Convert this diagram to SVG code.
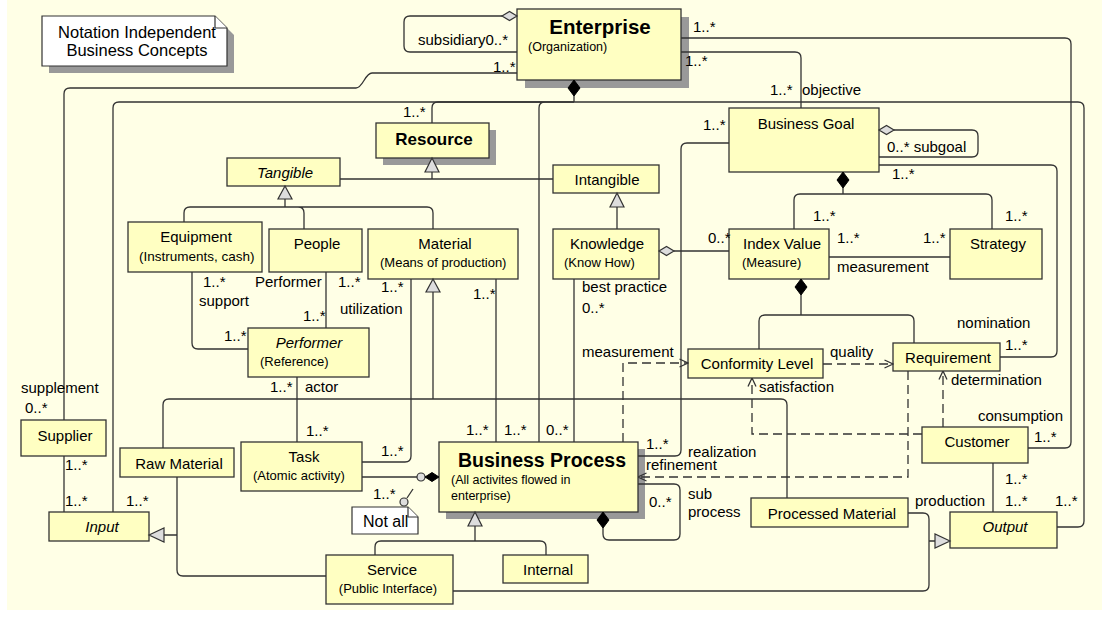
<svg xmlns="http://www.w3.org/2000/svg" width="1102" height="621" viewBox="0 0 1102 621">
<defs>
<style>
.bg{fill:#FFFFE6}
.n{fill:#FFFFC2;stroke:#333;stroke-width:1.3}
.sh{fill:#999}
.note{fill:#fff;stroke:#333;stroke-width:1.2}
.ln{fill:none;stroke:#333;stroke-width:1.3}
.dash{stroke-dasharray:9 5}
.tri{fill:#ddd;stroke:#333;stroke-width:1.2}
.od{fill:#ddd;stroke:#333;stroke-width:1.2}
.fd{fill:#000;stroke:#000;stroke-width:1}
text{font-family:"Liberation Sans",Arial,sans-serif;fill:#000}
.l{font-size:15px}
.nm{font-size:15px;text-anchor:middle}
.it{font-style:italic}
.ds{font-size:13px}
.bd{font-weight:bold;text-anchor:middle}
</style>
<marker id="arr" viewBox="0 0 10 10" refX="9.5" refY="5" markerWidth="10" markerHeight="10" markerUnits="userSpaceOnUse" orient="auto">
<path d="M1,1 L9.5,5 L1,9" fill="none" stroke="#333" stroke-width="1.3" stroke-dasharray="none"/>
</marker>
</defs>
<rect class="bg" x="7" y="0" width="1095" height="610"/>

<g id="note-concepts">
<path class="sh" d="M49,23 H222 L234,35 V73 H49 Z"/>
<path class="note" d="M42,16 H215 L227,28 V66 H42 Z"/>
<path class="note" d="M215,16 V28 H227"/>
<text x="137" y="38" style="font-size:16.5px;text-anchor:middle">Notation Independent</text>
<text x="137" y="56" style="font-size:16.5px;text-anchor:middle">Business Concepts</text>
</g>
<g id="enterprise">
<rect class="sh" x="525" y="17" width="164" height="71"/>
<rect class="n" x="517" y="9" width="164" height="71"/>
<text class="bd" x="600" y="34" style="font-size:20.5px">Enterprise</text>
<text x="528" y="51" style="font-size:12.5px">(Organization)</text>
</g>
<g id="resource">
<rect class="sh" x="383" y="130" width="113" height="35"/>
<rect class="n" x="376" y="123" width="113" height="35"/>
<text class="bd" x="434" y="145" style="font-size:17px">Resource</text>
</g>
<g id="tangible">
<rect class="n" x="227" y="158" width="113" height="28"/>
<text class="nm it" x="285" y="178">Tangible</text>
</g>
<g id="intangible">
<rect class="n" x="553" y="165" width="106" height="28"/>
<text class="nm" x="607" y="185">Intangible</text>
</g>
<g id="business-goal">
<rect class="n" x="729" y="108" width="150" height="64"/>
<text class="nm" x="806" y="129">Business Goal</text>
</g>
<g id="equipment">
<rect class="n" x="128" y="222" width="134" height="50"/>
<text class="nm" x="196" y="242">Equipment</text>
<text class="ds" x="139" y="261" style="font-size:13.5px">(Instruments, cash)</text>
</g>
<g id="people">
<rect class="n" x="269" y="229" width="93" height="43"/>
<text class="nm" x="317" y="249">People</text>
</g>
<g id="material">
<rect class="n" x="368" y="229" width="150" height="50"/>
<text class="nm" x="445" y="249">Material</text>
<text class="ds" x="380" y="267">(Means of production)</text>
</g>
<g id="knowledge">
<rect class="n" x="553" y="229" width="106" height="50"/>
<text class="nm" x="607" y="249">Knowledge</text>
<text class="ds" x="564" y="267">(Know How)</text>
</g>
<g id="index-value">
<rect class="n" x="729" y="229" width="100" height="50"/>
<text class="l" x="743" y="249">Index Value</text>
<text class="ds" x="742" y="267">(Measure)</text>
</g>
<g id="strategy">
<rect class="n" x="950" y="229" width="92" height="50"/>
<text class="nm" x="998" y="249">Strategy</text>
</g>
<g id="performer">
<rect class="n" x="248" y="328" width="121" height="49"/>
<text class="nm it" x="309" y="348">Performer</text>
<text class="ds" x="260" y="366">(Reference)</text>
</g>
<g id="conformity-level">
<rect class="n" x="688" y="349" width="135" height="29"/>
<text class="nm" x="757" y="369">Conformity Level</text>
</g>
<g id="requirement">
<rect class="n" x="893" y="343" width="107" height="28"/>
<text class="nm" x="948" y="363">Requirement</text>
</g>
<g id="supplier">
<rect class="n" x="21" y="420" width="85" height="36"/>
<text class="nm" x="65" y="441">Supplier</text>
</g>
<g id="raw-material">
<rect class="n" x="120" y="448" width="114" height="29"/>
<text class="nm" x="179" y="469">Raw Material</text>
</g>
<g id="task">
<rect class="n" x="241" y="442" width="121" height="49"/>
<text class="nm" x="304" y="462">Task</text>
<text class="ds" x="253" y="480">(Atomic activity)</text>
</g>
<g id="input">
<rect class="n" x="49" y="512" width="100" height="29"/>
<text class="nm it" x="102" y="532">Input</text>
</g>
<g id="business-process">
<rect class="sh" x="446" y="449" width="199" height="70"/>
<rect class="n" x="439" y="442" width="199" height="70"/>
<text class="bd" x="542" y="467" style="font-size:19.5px">Business Process</text>
<text x="451" y="484" style="font-size:12.5px">(All activites flowed in</text>
<text x="451" y="500" style="font-size:12.5px">enterprise)</text>
</g>
<g id="note-not-all">
<path class="note" d="M352,507 H408 L418,517 V534 H352 Z"/>
<path class="note" d="M408,507 V517 H418"/>
<text x="363" y="527" style="font-size:16px">Not all</text>
</g>
<g id="service">
<rect class="n" x="326" y="555" width="127" height="49"/>
<text class="nm" x="392" y="575">Service</text>
<text class="ds" x="388" y="593" style="text-anchor:middle">(Public Interface)</text>
</g>
<g id="internal">
<rect class="n" x="503" y="555" width="85" height="28"/>
<text class="nm" x="548" y="575">Internal</text>
</g>
<g id="processed-material">
<rect class="n" x="751" y="498" width="157" height="29"/>
<text class="nm" x="832" y="519">Processed Material</text>
</g>
<g id="output">
<rect class="n" x="950" y="512" width="107" height="36"/>
<text class="nm it" x="1005" y="532">Output</text>
</g>
<g id="customer">
<rect class="n" x="922" y="427" width="106" height="36"/>
<text class="nm" x="977" y="447">Customer</text>
</g>

<g id="connectors">
<path class="ln" d="M517,73 H372 C365,73 363,88 356,88 H70 Q64,88 64,94 V420"/>
<path class="ln" d="M113,512 V108 Q113,102 119,102 H1078 Q1084,102 1084,108 V521 Q1084,527 1078,527 H1057"/>
<path class="ln" d="M574,96 V102 M574,102 H438 Q432,102 432,108 V123 M574,102 H545 Q539,102 539,108 V442"/>
<polygon class="fd" points="574,80 580,88 574,96 568,88"/>
<path class="ln" d="M681,52 H795 Q801,52 801,58 V108"/>
<path class="ln" d="M681,38 H1065 Q1071,38 1071,44 V442 Q1071,448 1065,448 H1028"/>
<path class="ln" d="M502,16 H410 Q404,16 404,22 V46 Q404,52 410,52 H517"/>
<polygon class="od" points="517,16 509.5,11.5 502,16 509.5,20.5"/>
<path class="ln" d="M894,130 H972 Q978,130 978,136 V151 Q978,157 972,157 H879"/>
<polygon class="od" points="879,130 886.5,125.5 894,130 886.5,134.5"/>
<path class="ln" d="M879,165 H1051 Q1057,165 1057,171 V351 Q1057,357 1051,357 H1000"/>
<path class="ln" d="M843,188 V194 M794,229 V200 Q794,194 800,194 H986 Q992,194 992,200 V229"/>
<polygon class="fd" points="843,172 849,180 843,188 837,180"/>
<path class="ln" d="M829,257 H950"/>
<path class="ln" d="M674,251 H729"/>
<polygon class="od" points="659,251 666.5,246.5 674,251 666.5,255.5"/>
<path class="ln" d="M801,295 V315 M759,349 V321 Q759,315 765,315 H908 Q914,315 914,321 V343"/>
<polygon class="fd" points="801,279 807,287 801,295 795,287"/>
<path class="ln" d="M574,279 V442"/>
<path class="ln" d="M496,279 V442"/>
<path class="ln" d="M411,279 V456 Q411,462 405,462 H362"/>
<path class="ln" d="M433,292 V399 M163,448 V405 Q163,399 169,399 H781 Q787,399 787,405 V498"/>
<polygon class="tri" points="433,279 440,292 426,292"/>
<path class="ln" d="M285,199 V207 M184,222 V213 Q184,207 190,207 H427 Q433,207 433,213 V229 M298,207 Q304,207 304,213 V229"/>
<polygon class="tri" points="285,186 292,199 278,199"/>
<path class="ln" d="M432,172 V179 M340,179 H553"/>
<polygon class="tri" points="432,158 439,172 425,172"/>
<path class="ln" d="M617,207 V229"/>
<polygon class="tri" points="617,193 624,207 610,207"/>
<path class="ln" d="M326,272 V328"/>
<path class="ln" d="M192,272 V343 Q192,349 198,349 H248"/>
<path class="ln" d="M297,377 V442"/>
<path class="ln" d="M64,456 V512"/>
<path class="ln" d="M164,535 H177 M177,477 V570 Q177,576 183,576 H326"/>
<polygon class="tri" points="149,535 164,528 164,542"/>
<path class="ln" d="M908,513 H923 Q929,513 929,519 V585 Q929,591 923,591 H453 M929,541 H935"/>
<polygon class="tri" points="950,541 935,534 935,548"/>
<path class="ln" d="M993,463 V512"/>
<path class="ln" d="M362,477 H417"/>
<circle class="od" cx="421" cy="477" r="4"/>
<polygon class="fd" points="439,477 432,472.5 425,477 432,481.5"/>
<path class="ln" d="M407,498 L413,489"/>
<circle class="od" cx="404" cy="502" r="4"/>
<path class="ln" d="M475,526 V541 M375,555 V547 Q375,541 381,541 H540 Q546,541 546,547 V555"/>
<polygon class="tri" points="475,512 482,526 468,526"/>
<path class="ln" d="M603,528 V534 Q603,540 609,540 H674 Q680,540 680,534 V490 Q680,484 674,484 H638"/>
<polygon class="fd" points="603,512 609,520 603,528 597,520"/>
<path class="ln" d="M729,143 H687 Q681,143 681,149 V450 Q681,456 675,456 H638"/>
<path class="ln dash" d="M623,442 V363 H688" marker-end="url(#arr)"/>
<path class="ln dash" d="M823,364 H893" marker-end="url(#arr)"/>
<path class="ln dash" d="M922,434 H752 V378" marker-end="url(#arr)"/>
<path class="ln dash" d="M943,427 V371" marker-end="url(#arr)"/>
<path class="ln dash" d="M908,371 V477 H638" marker-end="url(#arr)"/>
</g>

<g id="connector-labels">
<text class="l" x="418" y="45">subsidiary0..*</text>
<text class="l" x="493" y="72">1..*</text>
<text class="l" x="693" y="32">1..*</text>
<text class="l" x="685" y="66">1..*</text>
<text class="l" x="403" y="117">1..*</text>
<text class="l" x="770" y="95">1..*</text>
<text class="l" x="802" y="95">objective</text>
<text class="l" x="703" y="130">1..*</text>
<text class="l" x="887" y="152">0..* subgoal</text>
<text class="l" x="892" y="179">1..*</text>
<text class="l" x="813" y="221">1..*</text>
<text class="l" x="1005" y="221">1..*</text>
<text class="l" x="708" y="243">0..*</text>
<text class="l" x="837" y="243">1..*</text>
<text class="l" x="923" y="243">1..*</text>
<text class="l" x="837" y="272">measurement</text>
<text class="l" x="203" y="287">1..*</text>
<text class="l" x="255" y="287">Performer</text>
<text class="l" x="338" y="287">1..*</text>
<text class="l" x="381" y="292">1..*</text>
<text class="l" x="473" y="299">1..*</text>
<text class="l" x="582" y="292">best practice</text>
<text class="l" x="582" y="313">0..*</text>
<text class="l" x="199" y="306">support</text>
<text class="l" x="340" y="314">utilization</text>
<text class="l" x="303" y="321">1..*</text>
<text class="l" x="957" y="328">nomination</text>
<text class="l" x="224" y="341">1..*</text>
<text class="l" x="1005" y="350">1..*</text>
<text class="l" x="582" y="357">measurement</text>
<text class="l" x="830" y="357">quality</text>
<text class="l" x="951" y="385">determination</text>
<text class="l" x="270" y="392">1..*</text>
<text class="l" x="305" y="392">actor</text>
<text class="l" x="759" y="392">satisfaction</text>
<text class="l" x="21" y="393">supplement</text>
<text class="l" x="25" y="413">0..*</text>
<text class="l" x="978" y="421">consumption</text>
<text class="l" x="466" y="435">1..*</text>
<text class="l" x="504" y="435">1..*</text>
<text class="l" x="546" y="435">0..*</text>
<text class="l" x="306" y="436">1..*</text>
<text class="l" x="1034" y="442">1..*</text>
<text class="l" x="646" y="449">1..*</text>
<text class="l" x="381" y="456">1..*</text>
<text class="l" x="688" y="457">realization</text>
<text class="l" x="65" y="470">1..*</text>
<text class="l" x="646" y="470">refinement</text>
<text class="l" x="1005" y="484">1..*</text>
<text class="l" x="373" y="499">1..*</text>
<text class="l" x="688" y="499">sub</text>
<text class="l" x="65" y="506">1..*</text>
<text class="l" x="126" y="506">1..*</text>
<text class="l" x="915" y="506">production</text>
<text class="l" x="1005" y="506">1..*</text>
<text class="l" x="1055" y="506">1..*</text>
<text class="l" x="649" y="507">0..*</text>
<text class="l" x="688" y="517">process</text>
</g>
</svg>
